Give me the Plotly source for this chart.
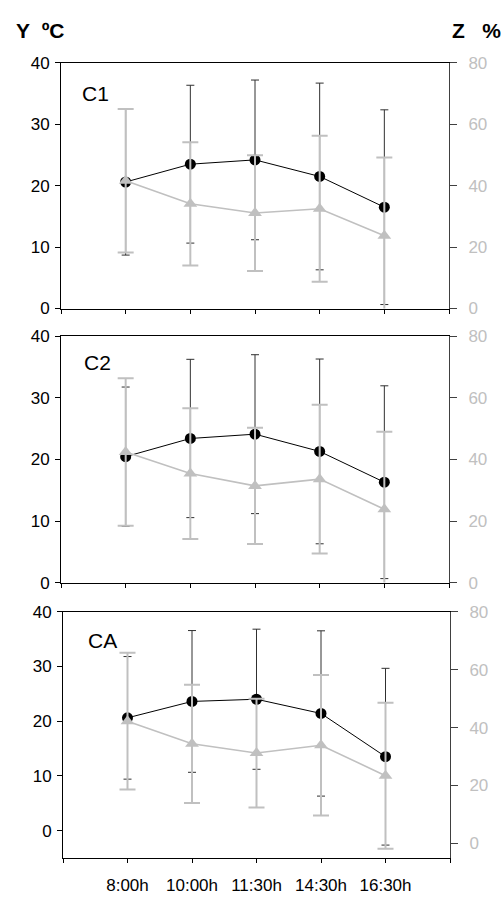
import plotly.graph_objects as go

times = ["8:00h", "10:00h", "11:30h", "14:30h", "16:30h"]
panels = ["C1", "C2", "CA"]

# Y (°C) mean and SD per panel
y_mean = {
    "C1": [20.6, 23.5, 24.2, 21.5, 16.5],
    "C2": [20.45, 23.4, 24.1, 21.3, 16.3],
    "CA": [20.6, 23.6, 24.0, 21.4, 13.5],
}
y_sd = {
    "C1": [11.9, 12.85, 13.0, 15.2, 15.85],
    "C2": [11.3, 12.85, 12.9, 15.0, 15.65],
    "CA": [11.2, 12.95, 12.8, 15.1, 16.15],
}
# Z (%) mean and SD per panel
z_mean = {
    "C1": [41.6, 34.1, 31.1, 32.5, 23.7],
    "C2": [42.4, 35.4, 31.4, 33.6, 23.8],
    "CA": [42.2, 34.4, 31.2, 33.9, 23.4],
}
z_sd = {
    "C1": [23.35, 20.05, 18.85, 23.8, 25.5],
    "C2": [23.95, 21.25, 18.85, 24.15, 25.2],
    "CA": [23.6, 20.4, 18.75, 24.25, 25.2],
}
y_ranges = {"C1": [0, 40], "C2": [0, 40], "CA": [-5, 40]}
z_ranges = {"C1": [0, 80], "C2": [0, 80], "CA": [-5, 80]}

W, H = 503, 898
# pixel boxes (left, right, top, bottom)
boxes = [(61, 449, 55, 306), (61, 449, 334.3, 586), (63, 450, 615.7, 867.3)]

BLACK = "#000000"
DARK = "#303030"
GRAY = "#c0c0c0"
FONT = "Arial, Liberation Sans, sans-serif"

fig = go.Figure()
xpos = [1, 2, 3, 4, 5]
layout = {}
for i, p in enumerate(panels):
    n = i + 1
    xa = "x" if n == 1 else f"x{n}"
    ya = f"y{2*n-1}" if n > 1 else "y"
    yb = f"y{2*n}"
    # error bars: black first, then gray on top
    fig.add_trace(go.Scatter(
        x=xpos, y=y_mean[p], xaxis=xa, yaxis=ya, mode="markers",
        marker=dict(size=2, opacity=0, color=BLACK),
        error_y=dict(type="data", array=y_sd[p], color=DARK, thickness=1, width=4),
        showlegend=False, hoverinfo="skip"))
    fig.add_trace(go.Scatter(
        x=xpos, y=z_mean[p], xaxis=xa, yaxis=yb, mode="markers",
        marker=dict(size=2, opacity=0, color=GRAY),
        error_y=dict(type="data", array=z_sd[p], color=GRAY, thickness=2, width=8),
        showlegend=False, hoverinfo="skip"))
    # lines + markers: black, then gray on top
    fig.add_trace(go.Scatter(
        x=xpos, y=y_mean[p], xaxis=xa, yaxis=ya, mode="lines+markers",
        line=dict(color=BLACK, width=1),
        marker=dict(symbol="circle", size=11, color=BLACK, line=dict(width=0)),
        showlegend=False))
    fig.add_trace(go.Scatter(
        x=xpos, y=z_mean[p], xaxis=xa, yaxis=yb, mode="lines+markers",
        line=dict(color=GRAY, width=1.6),
        marker=dict(symbol="triangle-up", size=12, color=GRAY, line=dict(width=0)),
        showlegend=False))

    l, r, t, b = boxes[i]
    xkey = "xaxis" if n == 1 else f"xaxis{n}"
    ykey = "yaxis" if n == 1 else f"yaxis{2*n-1}"
    y2key = f"yaxis{2*n}"
    layout[xkey] = dict(
        domain=[l / W, r / W], range=[0, 6], anchor=ya,
        tickmode="array", tickvals=[0, 1, 2, 3, 4, 5, 6],
        ticktext=([""] + times + [""]) if n == 3 else [""] * 7,
        ticks="outside", ticklen=4, tickcolor=BLACK, tickwidth=1,
        showline=True, linecolor=BLACK, linewidth=1, mirror=True,
        showgrid=False, zeroline=False, ticklabelstandoff=8,
        tickfont=dict(family=FONT, size=17, color=BLACK),
        fixedrange=True,
    )
    layout[ykey] = dict(
        domain=[1 - b / H, 1 - t / H], range=y_ranges[p], anchor=xa,
        tickmode="array", tickvals=[0, 10, 20, 30, 40],
        ticks="outside", ticklen=5, tickcolor=BLACK, tickwidth=1,
        showline=True, linecolor=BLACK, linewidth=1,
        showgrid=False, zeroline=False, ticklabelstandoff=2,
        tickfont=dict(family=FONT, size=17, color=BLACK),
    )
    layout[y2key] = dict(
        domain=[1 - b / H, 1 - t / H], range=z_ranges[p], anchor=xa,
        overlaying=ya, side="right",
        tickmode="array", tickvals=[0, 20, 40, 60, 80],
        ticks="outside", ticklen=7, tickcolor="#404040", tickwidth=1,
        showline=True, linecolor="#404040", linewidth=1,
        showgrid=False, zeroline=False, ticklabelstandoff=8,
        tickfont=dict(family=FONT, size=17, color=GRAY),
    )

annotations = [
    dict(text="<b>Y&nbsp;&nbsp;ºC</b>", x=14 / W, y=1 - 22 / H, xref="paper", yref="paper",
         xanchor="left", yanchor="middle", showarrow=False,
         font=dict(family=FONT, size=21, color=BLACK)),
    dict(text="<b>Z&nbsp;&nbsp;&nbsp;%</b>", x=503 / W, y=1 - 22 / H, xref="paper", yref="paper",
         xanchor="right", yanchor="middle", showarrow=False,
         font=dict(family=FONT, size=21, color=BLACK)),
]
label_pos = [(80, 86), (82, 361), (86, 645)]
for (lx, ly), p in zip(label_pos, panels):
    annotations.append(dict(text=p, x=lx / W, y=1 - ly / H, xref="paper", yref="paper",
                            xanchor="left", yanchor="middle", showarrow=False,
                            font=dict(family=FONT, size=21, color=BLACK)))

fig.update_layout(
    width=W, height=H, margin=dict(l=0, r=0, t=0, b=0),
    paper_bgcolor="white", plot_bgcolor="white",
    annotations=annotations, **layout,
)
fig.write_html("out.html")
